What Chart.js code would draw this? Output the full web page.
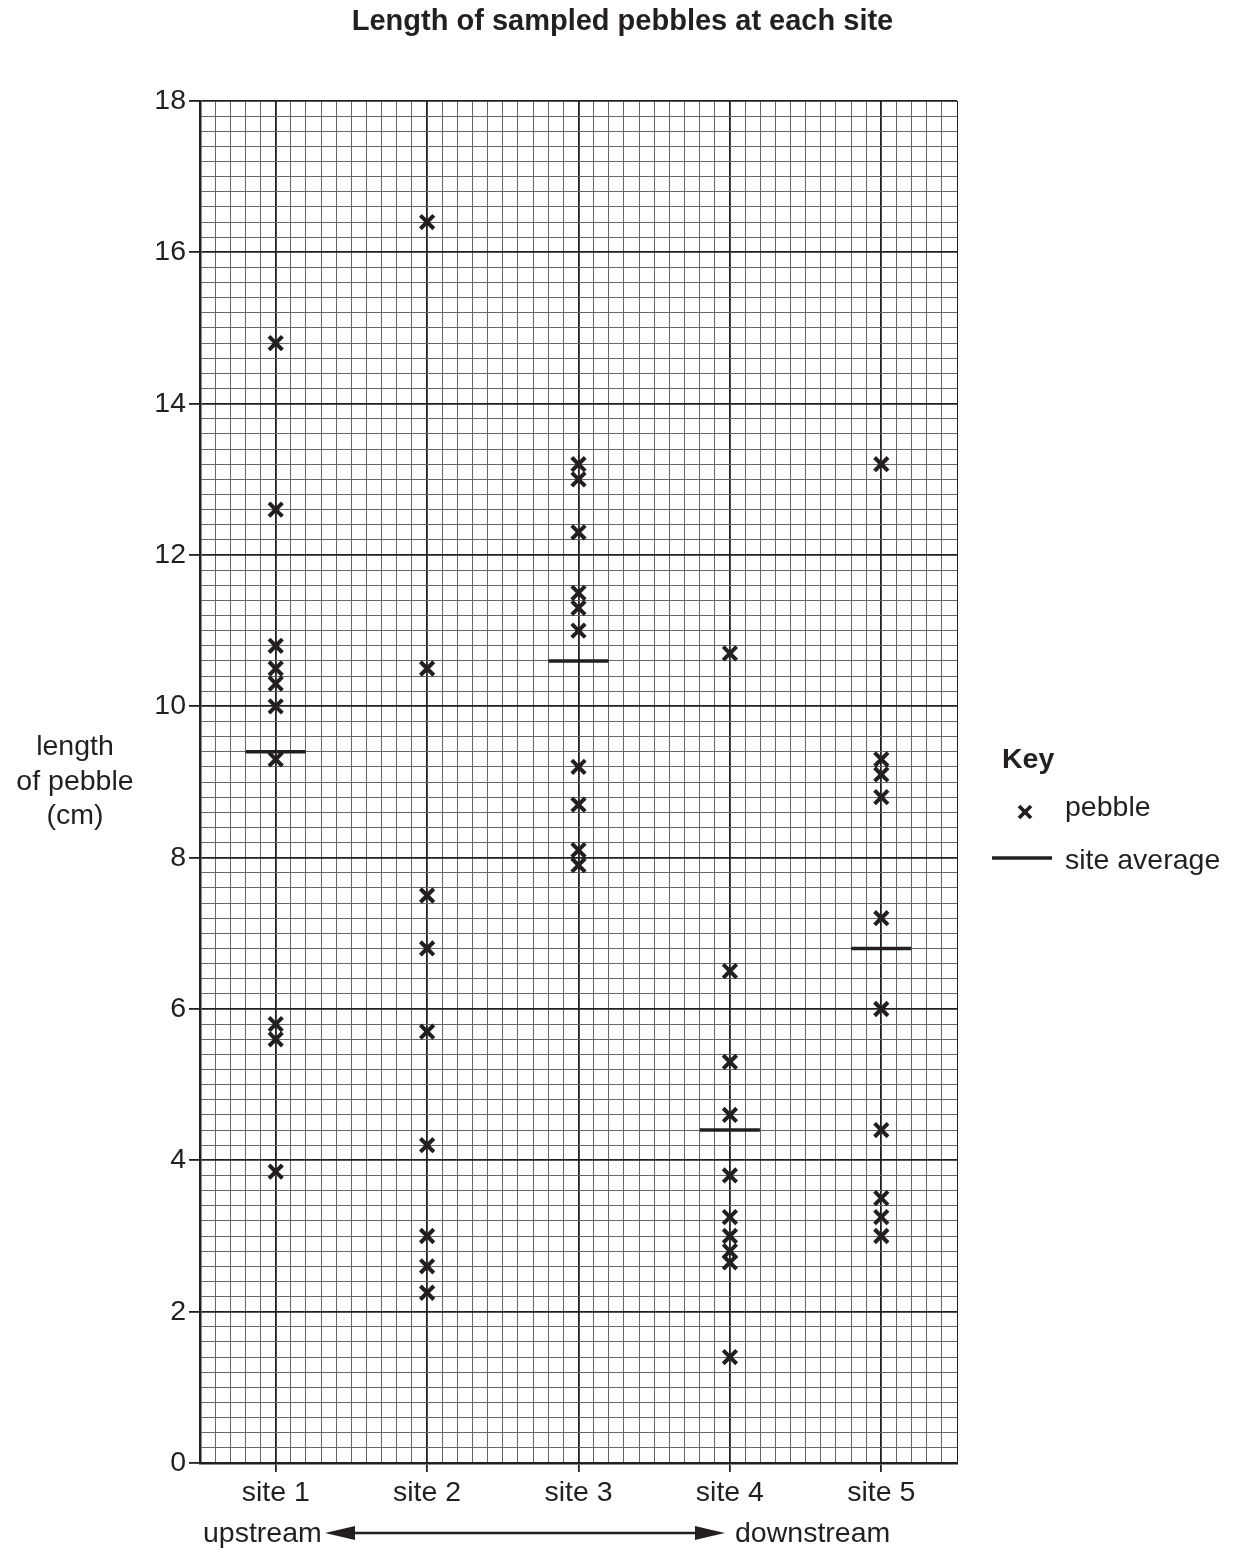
<!DOCTYPE html>
<html>
<head>
<meta charset="utf-8">
<script src="https://cdn.jsdelivr.net/npm/chart.js@4.4.1/dist/chart.umd.min.js"></script>
<style>
  body { margin: 0; background: #fff; }
  #wrap { position: relative; width: 1235px; height: 1552px; font-family: "Liberation Sans", Arial, sans-serif; color: #231f20; }
  #wrap canvas { position: absolute; left: 0; top: 0; }
  .lbl { position: absolute; font-size: 28.5px; white-space: nowrap; }
  #title { position: absolute; left: 0; width: 1245px; top: 4px; text-align: center; font-weight: bold; font-size: 29px; }
  #ylab { position: absolute; left: 0; width: 150px; top: 728px; text-align: center; font-size: 28.5px; line-height: 34.5px; }
</style>
</head>
<body>
<div id="wrap">
  <canvas id="myChart" width="1235" height="1552"></canvas>
  <div id="title">Length of sampled pebbles at each site</div>
  <div id="ylab">length<br>of pebble<br>(cm)</div>
  <div class="lbl" style="left:1002px; top:742px; font-weight:bold;">Key</div>
  <svg style="position:absolute; left:1016px; top:803px;" width="18" height="18">
    <line x1="3" y1="3" x2="15" y2="15" stroke="#231f20" stroke-width="3.8"/>
    <line x1="15" y1="3" x2="3" y2="15" stroke="#231f20" stroke-width="3.8"/>
  </svg>
  <div class="lbl" style="left:1065px; top:790px;">pebble</div>
  <svg style="position:absolute; left:990px; top:855px;" width="64" height="6">
    <line x1="2" y1="3" x2="62" y2="3" stroke="#231f20" stroke-width="3.5"/>
  </svg>
  <div class="lbl" style="left:1065px; top:843px;">site average</div>
  <div class="lbl" style="left:203px; top:1516px;">upstream</div>
  <svg style="position:absolute; left:320px; top:1522px;" width="410" height="22">
    <polygon points="5,11 35,4 35,18" fill="#231f20"/>
    <line x1="30" y1="11" x2="380" y2="11" stroke="#231f20" stroke-width="2.5"/>
    <polygon points="405,11 375,4 375,18" fill="#231f20"/>
  </svg>
  <div class="lbl" style="left:735px; top:1516px;">downstream</div>
</div>
<script>
const siteLabels = ["site 1", "site 2", "site 3", "site 4", "site 5"];
const site1 = [14.8, 12.6, 10.8, 10.5, 10.3, 10.0, 9.3, 5.8, 5.6, 3.85];
const site2 = [16.4, 10.5, 7.5, 6.8, 5.7, 4.2, 3.0, 2.6, 2.25];
const site3 = [13.2, 13.0, 12.3, 11.5, 11.3, 11.0, 9.2, 8.7, 8.1, 7.9];
const site4 = [10.7, 6.5, 5.3, 4.6, 3.8, 3.25, 3.0, 2.8, 2.65, 1.4];
const site5 = [13.2, 9.3, 9.1, 8.8, 7.2, 6.0, 4.4, 3.5, 3.25, 3.0];
const siteAverages = [9.4, null, 10.6, 4.4, 6.8];
const yTickStep = 0.2;
const xTickStep = 0.1;

var allSites = [site1, site2, site3, site4, site5];
var pebblePoints = [];
allSites.forEach(function (vals, i) {
    vals.forEach(function (v) { pebblePoints.push({ x: i + 1, y: v }); });
});
var averagePoints = [];
siteAverages.forEach(function (v, i) {
    if (v !== null) averagePoints.push({ x: i + 1, y: v });
});

function isMultiple(v, m) {
    var q = v / m;
    return Math.abs(q - Math.round(q)) < 1e-6;
}

const ink = "#231f20";
const minorLine = "#666464";

const ctx = document.getElementById("myChart").getContext("2d");
Chart.defaults.font.family = '"Liberation Sans", Arial, sans-serif';
Chart.defaults.font.size = 28.5;
Chart.defaults.color = ink;

const myChart = new Chart(ctx, {
    type: "scatter",
    data: {
        datasets: [
            {
                label: "pebble",
                data: pebblePoints,
                pointStyle: "crossRot",
                pointRadius: 9.5,
                pointHoverRadius: 9.5,
                borderColor: ink,
                backgroundColor: ink,
                borderWidth: 4,
            },
            {
                label: "site average",
                data: averagePoints,
                pointStyle: "line",
                pointRadius: 30,
                pointHoverRadius: 30,
                borderColor: ink,
                borderWidth: 3.5,
            },
        ],
    },
    options: {
        responsive: false,
        animation: false,
        layout: {
            padding: { left: 0, top: 101, right: 278, bottom: 29 },
        },
        scales: {
            x: {
                type: "linear",
                min: 0.5,
                max: 5.5,
                afterFit: function (s) { s.height = 60; },
                ticks: {
                    stepSize: xTickStep,
                    autoSkip: false,
                    maxRotation: 0,
                    padding: 4,
                    callback: function (v) {
                        return isMultiple(v, 1) ? siteLabels[Math.round(v) - 1] : "";
                    },
                },
                grid: {
                    color: function (c) { return isMultiple(c.tick.value, 1) || isMultiple(c.tick.value - 0.5, 5) ? ink : minorLine; },
                    lineWidth: function (c) { return isMultiple(c.tick.value, 1) ? 1.8 : 1; },
                    tickColor: function (c) { return isMultiple(c.tick.value, 1) ? ink : "rgba(0,0,0,0)"; },
                    tickLength: 9,
                    tickWidth: 1.8,
                },
                border: { color: ink, width: 2.5 },
            },
            y: {
                min: 0,
                max: 18,
                afterFit: function (s) { s.width = 200; },
                ticks: {
                    stepSize: yTickStep,
                    autoSkip: false,
                    padding: 3,
                    callback: function (v) {
                        return isMultiple(v, 2) ? String(Math.round(v)) : "";
                    },
                },
                grid: {
                    color: function (c) { return isMultiple(c.tick.value, 2) ? ink : minorLine; },
                    lineWidth: function (c) { return isMultiple(c.tick.value, 2) ? 1.8 : 1; },
                    tickColor: function (c) { return isMultiple(c.tick.value, 2) ? ink : "rgba(0,0,0,0)"; },
                    tickLength: 11,
                    tickWidth: 1.8,
                },
                border: { color: ink, width: 2.5 },
            },
        },
        plugins: {
            legend: { display: false },
            tooltip: { enabled: false },
        },
    },
});
</script>
</body>
</html>
